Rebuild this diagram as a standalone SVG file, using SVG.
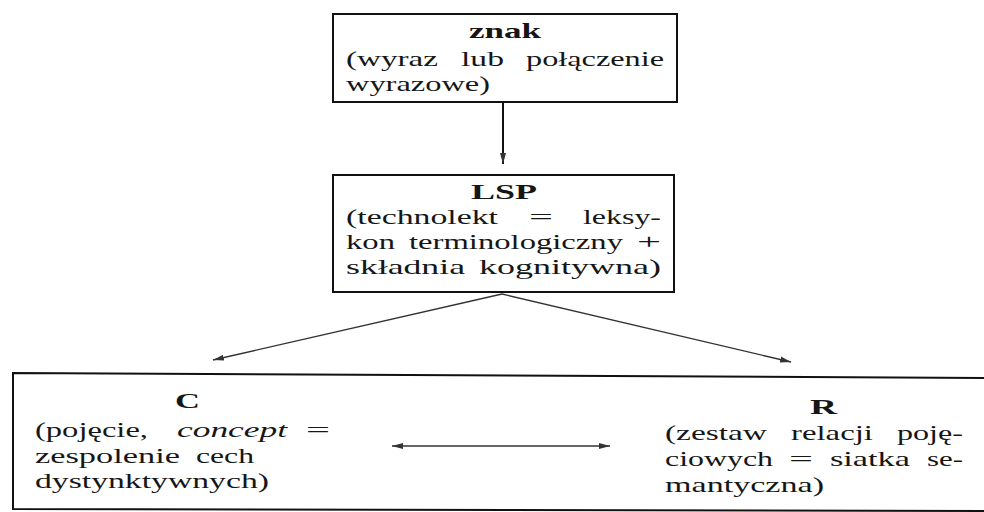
<svg xmlns="http://www.w3.org/2000/svg" width="984" height="512" viewBox="0 0 984 512">
  <style>
    .frame { fill: none; stroke: #111; stroke-width: 2; }
    .t { font-family: "Liberation Serif", "Times New Roman", serif; font-size: 22px; fill: #161616; }
    .b { font-weight: bold; }
    .i { font-style: italic; }
    .edge { fill: none; stroke: #333; stroke-width: 1.4; }
    .edge-v { fill: none; stroke: #111; stroke-width: 2; }
  </style>
  <defs>
    <marker id="head" markerUnits="userSpaceOnUse" markerWidth="12" markerHeight="8" refX="11" refY="3.5" orient="auto-start-reverse">
      <path d="M0,0.5 L11,3.5 L0,6.5 Z" fill="#333"/>
    </marker>
  </defs>

  <rect width="984" height="512" fill="#ffffff"/>

  <!-- sign: word or word combination -->
  <g id="node-znak">
    <rect class="frame" x="333" y="14" width="344" height="88"/>
    <text class="t b" x="469" y="38" textLength="72" lengthAdjust="spacingAndGlyphs">znak</text>
    <text class="t" x="346" y="66" textLength="92" lengthAdjust="spacingAndGlyphs">(wyraz</text>
    <text class="t" x="461" y="66" textLength="43" lengthAdjust="spacingAndGlyphs">lub</text>
    <text class="t" x="526" y="66" textLength="138" lengthAdjust="spacingAndGlyphs">połączenie</text>
    <text class="t" x="346" y="91" textLength="144" lengthAdjust="spacingAndGlyphs">wyrazowe)</text>
  </g>

  <!-- LSP: technolect -->
  <g id="node-lsp">
    <rect class="frame" x="333" y="175" width="341" height="117"/>
    <text class="t b" x="471" y="199" textLength="66" lengthAdjust="spacingAndGlyphs">LSP</text>
    <text class="t" x="346" y="224" textLength="152" lengthAdjust="spacingAndGlyphs">(technolekt</text>
    <text class="t" x="529" y="224" textLength="24" lengthAdjust="spacingAndGlyphs">=</text>
    <text class="t" x="583" y="224" textLength="78" lengthAdjust="spacingAndGlyphs">leksy-</text>
    <text class="t" x="346" y="249" textLength="49" lengthAdjust="spacingAndGlyphs">kon</text>
    <text class="t" x="409" y="249" textLength="214" lengthAdjust="spacingAndGlyphs">terminologiczny</text>
    <text class="t" x="637" y="249" textLength="24" lengthAdjust="spacingAndGlyphs">+</text>
    <text class="t" x="346" y="274" textLength="119" lengthAdjust="spacingAndGlyphs">składnia</text>
    <text class="t" x="479" y="274" textLength="182" lengthAdjust="spacingAndGlyphs">kognitywna)</text>
  </g>

  <!-- shared frame around concept and relations -->
  <g id="node-cr-frame">
    <path class="frame" d="M986,378 L13,373 L13,509 L986,511"/>
  </g>

  <!-- C: concept -->
  <g id="node-c">
    <text class="t b" x="175" y="408" textLength="25" lengthAdjust="spacingAndGlyphs">C</text>
    <text class="t" x="35" y="437" textLength="113" lengthAdjust="spacingAndGlyphs">(pojęcie,</text>
    <text class="t i" x="177" y="437" textLength="110" lengthAdjust="spacingAndGlyphs">concept</text>
    <text class="t" x="306" y="437" textLength="24" lengthAdjust="spacingAndGlyphs">=</text>
    <text class="t" x="35" y="463" textLength="145" lengthAdjust="spacingAndGlyphs">zespolenie</text>
    <text class="t" x="196" y="463" textLength="58" lengthAdjust="spacingAndGlyphs">cech</text>
    <text class="t" x="35" y="488" textLength="234" lengthAdjust="spacingAndGlyphs">dystynktywnych)</text>
  </g>

  <!-- R: set of conceptual relations -->
  <g id="node-r">
    <text class="t b" x="810" y="414" textLength="27" lengthAdjust="spacingAndGlyphs">R</text>
    <text class="t" x="665" y="440" textLength="102" lengthAdjust="spacingAndGlyphs">(zestaw</text>
    <text class="t" x="791" y="440" textLength="82" lengthAdjust="spacingAndGlyphs">relacji</text>
    <text class="t" x="897" y="440" textLength="66" lengthAdjust="spacingAndGlyphs">poję-</text>
    <text class="t" x="665" y="466" textLength="108" lengthAdjust="spacingAndGlyphs">ciowych</text>
    <text class="t" x="789" y="466" textLength="24" lengthAdjust="spacingAndGlyphs">=</text>
    <text class="t" x="830" y="466" textLength="80" lengthAdjust="spacingAndGlyphs">siatka</text>
    <text class="t" x="927" y="466" textLength="36" lengthAdjust="spacingAndGlyphs">se-</text>
    <text class="t" x="665" y="492" textLength="159" lengthAdjust="spacingAndGlyphs">mantyczna)</text>
  </g>

  <!-- connectors -->
  <g id="connectors">
    <line class="edge-v" x1="503" y1="103" x2="503" y2="164" marker-end="url(#head)"/>
    <line class="edge" x1="502" y1="294" x2="213" y2="360" marker-end="url(#head)"/>
    <line class="edge" x1="502" y1="294" x2="791" y2="362" marker-end="url(#head)"/>
    <line class="edge" x1="392" y1="446" x2="610" y2="446" marker-start="url(#head)" marker-end="url(#head)"/>
  </g>
</svg>
